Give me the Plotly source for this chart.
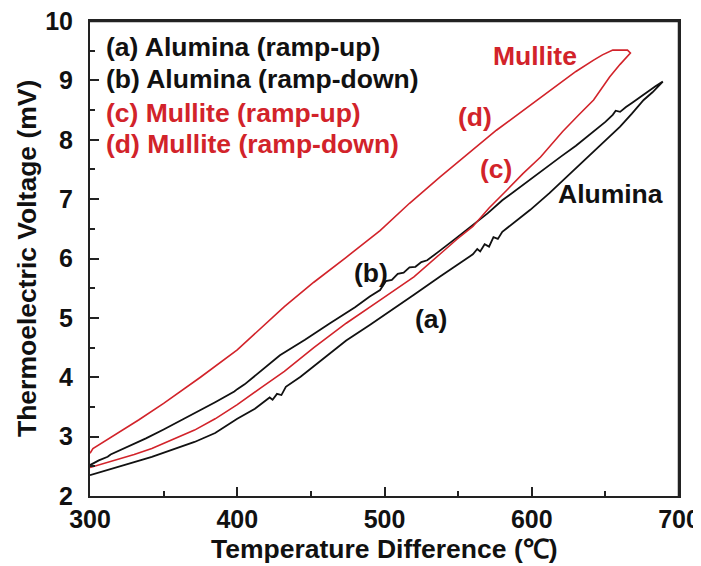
import plotly.graph_objects as go

# Alumina ramp-up (a)
alu_up_x = [300, 310, 319, 330, 342, 355, 371, 385, 400, 412, 420, 422, 424, 427, 430, 433, 443, 458, 474, 490, 505, 520, 538, 556,
            560, 563, 565, 568, 571, 574, 577, 580, 590, 599, 612, 624, 628, 640, 650, 660, 668, 676, 682, 689]
alu_up_y = [2.35, 2.42, 2.49, 2.57, 2.66, 2.77, 2.91, 3.06, 3.30, 3.47, 3.62, 3.66, 3.62, 3.72, 3.70, 3.84, 4.01, 4.30, 4.62, 4.88, 5.13, 5.39, 5.70, 6.00,
            6.07, 6.16, 6.12, 6.24, 6.20, 6.36, 6.33, 6.45, 6.64, 6.82, 7.10, 7.38, 7.49, 7.77, 7.99, 8.22, 8.44, 8.67, 8.80, 8.98]
# Alumina ramp-down (b)
alu_dn_x = [689, 684, 678, 672, 668, 664, 660, 657, 655, 650, 640, 630, 620, 607, 594, 580, 570, 560, 548, 537, 529, 525, 521, 517,
            513, 509, 505, 501, 497, 490, 480, 463, 446, 429, 415, 405, 400, 398, 385, 370, 360, 350, 338, 326, 318, 314, 312, 306, 300]
alu_dn_y = [8.98, 8.90, 8.80, 8.70, 8.62, 8.55, 8.47, 8.49, 8.42, 8.30, 8.10, 7.90, 7.72, 7.48, 7.24, 6.98, 6.76, 6.56, 6.33, 6.12, 5.97, 5.94, 5.86, 5.85,
            5.76, 5.74, 5.64, 5.62, 5.47, 5.36, 5.18, 4.91, 4.63, 4.37, 4.08, 3.88, 3.80, 3.76, 3.58, 3.38, 3.25, 3.12, 2.97, 2.83, 2.74, 2.70, 2.66, 2.60, 2.52]
# Mullite ramp-up (c)
mul_up_x = [300, 310, 319, 330, 342, 356, 371, 385, 400, 416, 432, 452, 474, 497, 520, 538, 549, 560, 571, 583, 594, 606, 621, 632, 642, 653, 660, 667]
mul_up_y = [2.48, 2.55, 2.62, 2.70, 2.80, 2.95, 3.11, 3.30, 3.54, 3.82, 4.10, 4.50, 4.91, 5.30, 5.69, 6.08, 6.32, 6.54, 6.85, 7.15, 7.43, 7.71, 8.14, 8.42, 8.67, 9.06, 9.27, 9.46]
# Mullite ramp-down (d)
mul_dn_x = [667, 665, 655, 648, 642, 630, 619, 598, 576, 557, 538, 517, 497, 474, 452, 432, 416, 400, 375, 350, 333, 318, 305, 302, 300]
mul_dn_y = [9.46, 9.51, 9.51, 9.43, 9.34, 9.15, 8.95, 8.57, 8.16, 7.77, 7.38, 6.93, 6.47, 6.02, 5.60, 5.19, 4.82, 4.46, 4.00, 3.56, 3.28, 3.05, 2.86, 2.80, 2.72]

x_ticks = [300, 400, 500, 600, 700]
y_ticks = [2, 3, 4, 5, 6, 7, 8, 9, 10]
x_range = [300, 700]
y_range = [2, 10]

RED = "#d2232a"
BLACK = "#111111"
AX = "#222222"
FONT = "Liberation Sans, Arial, sans-serif"

fig = go.Figure()
fig.add_trace(go.Scatter(x=alu_up_x + alu_dn_x, y=alu_up_y + alu_dn_y, mode="lines",
                         line=dict(color=BLACK, width=1.8), showlegend=False))
fig.add_trace(go.Scatter(x=mul_up_x + mul_dn_x, y=mul_up_y + mul_dn_y, mode="lines",
                         line=dict(color=RED, width=1.6), showlegend=False))

tick_common = dict(ticks="inside", ticklen=9, tickwidth=1.5, tickcolor=AX,
                   showgrid=False, zeroline=False, automargin=False)
fig.update_layout(
    xaxis=dict(range=x_range, tickvals=x_ticks, ticktext=["<b>%d</b>" % v for v in x_ticks],
               showline=True, linecolor=AX, linewidth=2, mirror=True, ticklabeloverflow="allow",
               tickfont=dict(family=FONT, size=25, color="#111"),
               minor=dict(ticks="inside", ticklen=5, tickwidth=1.5, tickcolor=AX, dtick=50),
               **tick_common),
    yaxis=dict(range=y_range, tickvals=y_ticks, ticktext=["<b>%d</b>" % v for v in y_ticks],
               showline=True, linecolor=AX, linewidth=2, mirror=True, ticklabeloverflow="allow",
               ticklabelstandoff=10,
               tickfont=dict(family=FONT, size=25, color="#111"),
               minor=dict(ticks="inside", ticklen=5, tickwidth=1.5, tickcolor=AX, dtick=0.5),
               **tick_common),
    # ticks on the top and right edges
    xaxis2=dict(range=x_range, overlaying="x", side="top", anchor="y", tickvals=x_ticks,
                showticklabels=False, showline=True, linecolor=AX, linewidth=2,
                minor=dict(ticks="inside", ticklen=5, tickwidth=1.5, tickcolor=AX, dtick=50),
                **tick_common),
    yaxis2=dict(range=y_range, overlaying="y", side="right", anchor="x", tickvals=y_ticks,
                showticklabels=False, showline=True, linecolor=AX, linewidth=2,
                minor=dict(ticks="inside", ticklen=5, tickwidth=1.5, tickcolor=AX, dtick=0.5),
                **tick_common),
)
# top and right border lines, drawn on the data axes
fig.add_shape(type="line", xref="x", yref="y", x0=x_range[0], x1=x_range[1], y0=y_range[1], y1=y_range[1],
              line=dict(color=AX, width=2.5), layer="above")
fig.add_shape(type="line", xref="x", yref="y", x0=x_range[1], x1=x_range[1], y0=y_range[0], y1=y_range[1],
              line=dict(color=AX, width=2.5), layer="above")

def label(x, y, text, color, anchor="center", size=26.5):
    fig.add_annotation(x=x, y=y, text="<b>%s</b>" % text, showarrow=False,
                       xref="x", yref="y", xanchor=anchor, yanchor="middle",
                       font=dict(family=FONT, size=size, color=color))

label(309.5, 9.56, "(a) Alumina (ramp-up)", BLACK, "left")
label(309.5, 9.02, "(b) Alumina (ramp-down)", BLACK, "left")
label(309.5, 8.45, "(c) Mullite (ramp-up)", RED, "left")
label(309.5, 7.93, "(d) Mullite (ramp-down)", RED, "left")
label(602.2, 9.41, "Mullite", RED)
label(561.5, 8.38, "(d)", RED)
label(575.7, 7.51, "(c)", RED)
label(653.8, 7.09, "Alumina", BLACK)
label(490.8, 5.76, "(b)", BLACK)
label(531.6, 4.98, "(a)", BLACK)

fig.add_annotation(x=0.5, y=-0.111, xref="paper", yref="paper", showarrow=False,
                   text="<b>Temperature Difference (℃)</b>", xanchor="center", yanchor="middle",
                   font=dict(family=FONT, size=26.5, color="#111"))
fig.add_annotation(x=-0.107, y=0.501, xref="paper", yref="paper", showarrow=False,
                   text="<b>Thermoelectric Voltage (mV)</b>", textangle=-90, xanchor="center", yanchor="middle",
                   font=dict(family=FONT, size=26.5, color="#111"))

# the page body adds an 8px margin, so the figure is drawn 8px in from the corner
fig.update_layout(width=693, height=558, margin=dict(l=82, r=22, t=13, b=70),
                  paper_bgcolor="white", plot_bgcolor="white", showlegend=False)
fig.write_html("out.html")
